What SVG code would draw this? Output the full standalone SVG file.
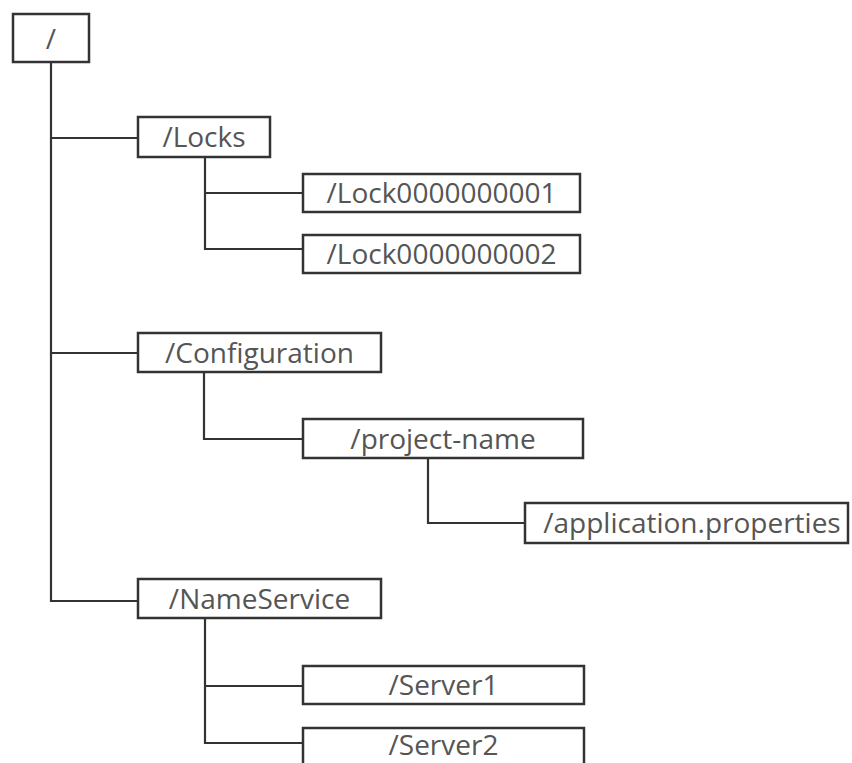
<svg xmlns="http://www.w3.org/2000/svg" width="852" height="763" viewBox="0 0 852 763">
<style>
.box{fill:#fff;stroke:#333;stroke-width:2.5}
.lbl{font-family:"Open Sans","Liberation Sans",sans-serif;font-size:28px;fill:#555;text-anchor:middle}
.ln{fill:none;stroke:#333;stroke-width:2.2}
</style>
<rect width="852" height="763" fill="#fff"/>
<g id="connectors">
<path class="ln" d="M51 62V601H138"/>
<path class="ln" d="M51 138H138"/>
<path class="ln" d="M51 353H138"/>
<path class="ln" d="M205 157V249H303"/>
<path class="ln" d="M205 193H303"/>
<path class="ln" d="M204 372V439H303"/>
<path class="ln" d="M428 458V523H525"/>
<path class="ln" d="M205 618V743H303"/>
<path class="ln" d="M205 686H303"/>
</g>
<g id="root"><rect class="box" x="13" y="14" width="76" height="48"/><text class="lbl" x="51" y="49">/</text></g>
<g id="locks"><rect class="box" x="138" y="117" width="132" height="40"/><text class="lbl" x="204" y="147">/Locks</text></g>
<g id="lock1"><rect class="box" x="303" y="174" width="277" height="38"/><text class="lbl" x="441.5" y="203">/Lock0000000001</text></g>
<g id="lock2"><rect class="box" x="303" y="235" width="277" height="38"/><text class="lbl" x="441.5" y="264">/Lock0000000002</text></g>
<g id="configuration"><rect class="box" x="138" y="333" width="243" height="39"/><text class="lbl" x="259.5" y="363">/Configuration</text></g>
<g id="project-name"><rect class="box" x="303" y="419" width="280" height="39"/><text class="lbl" x="443" y="449">/project-name</text></g>
<g id="application-properties"><rect class="box" x="525" y="503" width="323" height="40"/><text class="lbl" x="692" y="533">/application.properties</text></g>
<g id="nameservice"><rect class="box" x="138" y="579" width="243" height="39"/><text class="lbl" x="259.5" y="609">/NameService</text></g>
<g id="server1"><rect class="box" x="303" y="666" width="281" height="38"/><text class="lbl" x="443.5" y="695">/Server1</text></g>
<g id="server2"><rect class="box" x="303" y="728" width="281" height="50"/><text class="lbl" x="443.5" y="755">/Server2</text></g>
</svg>
